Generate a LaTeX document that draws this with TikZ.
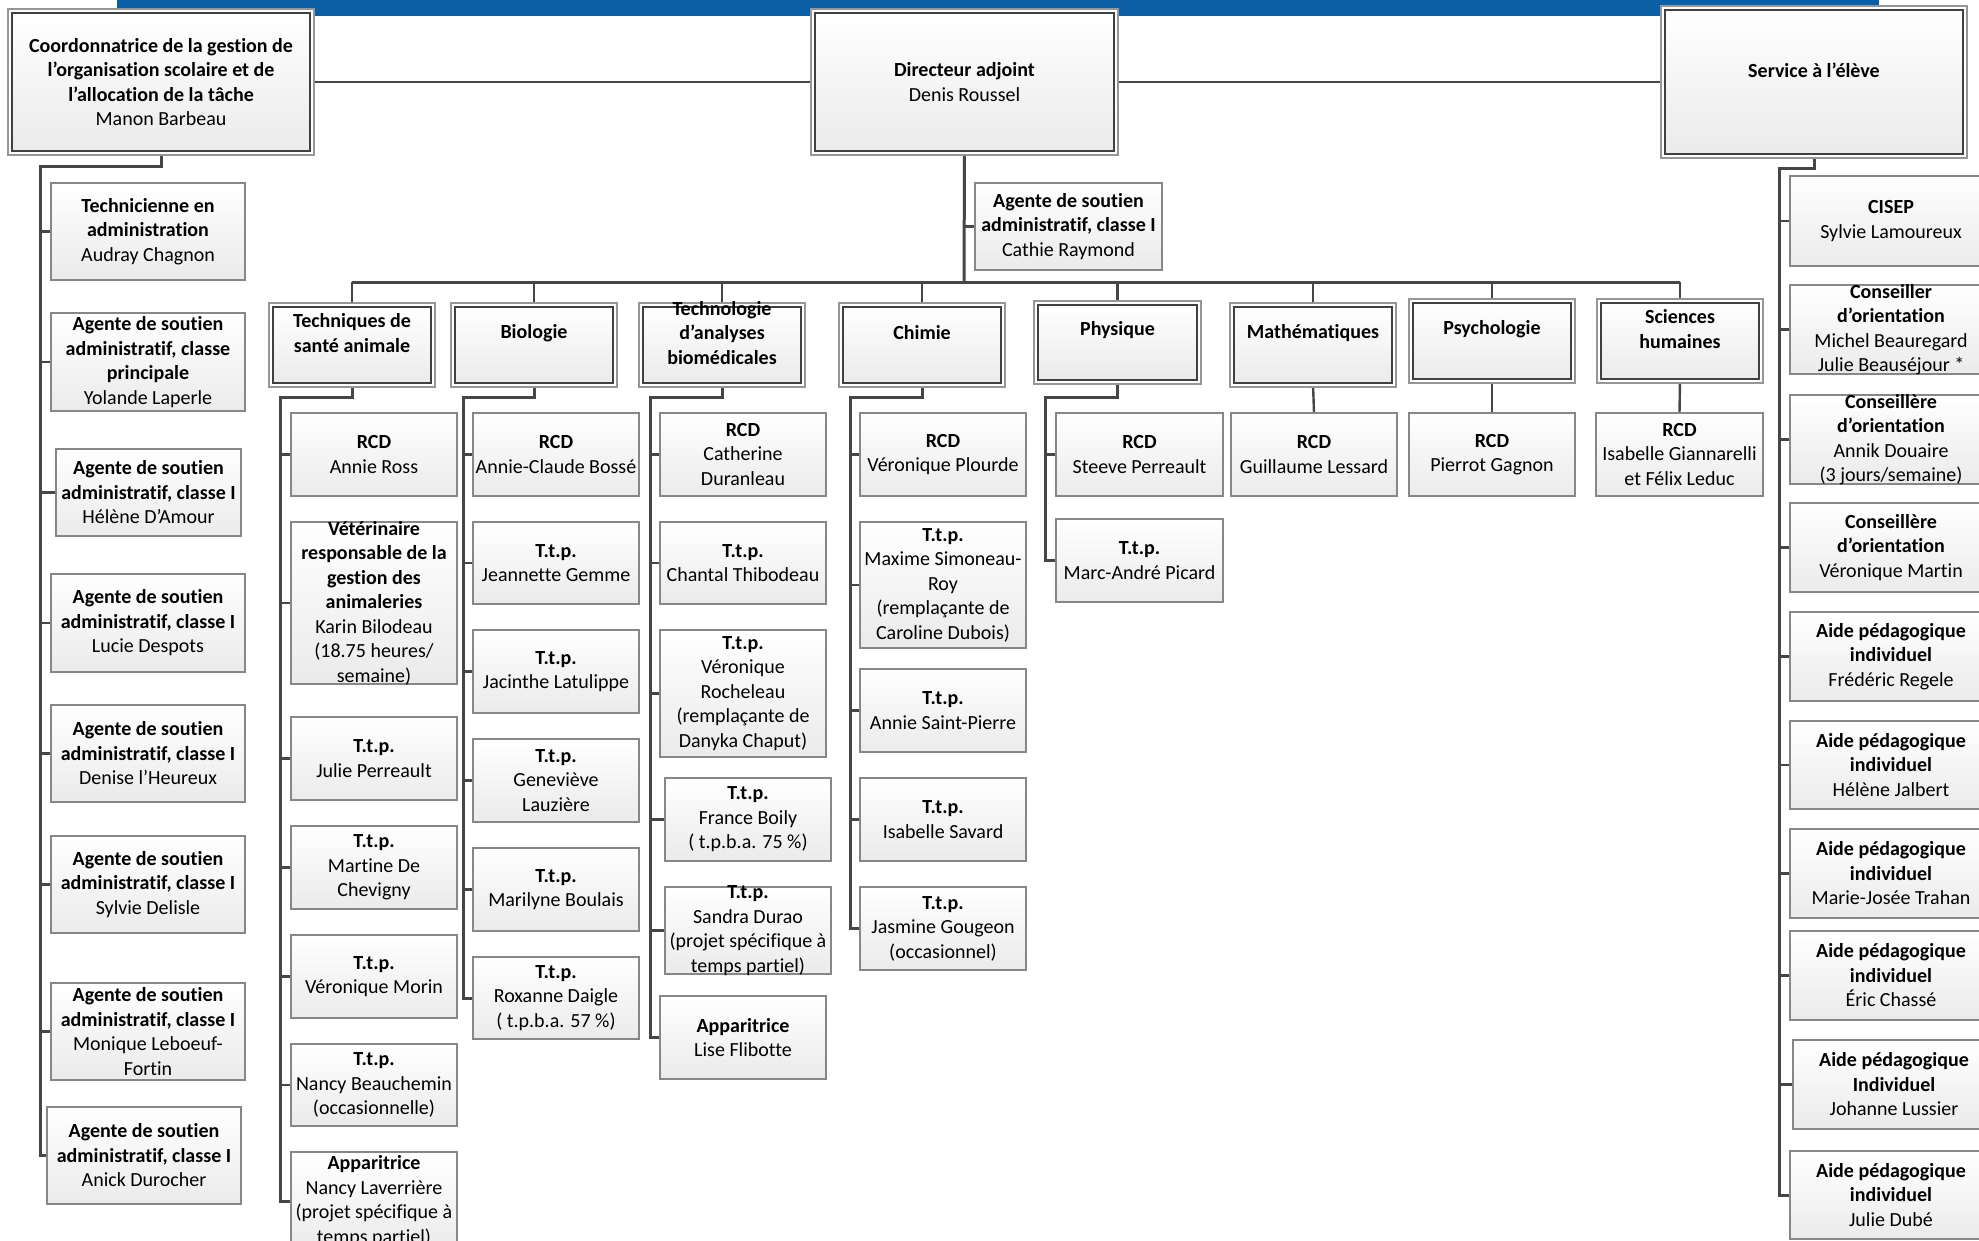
\documentclass[tikz,border=0pt]{standalone}
\usepackage{fontspec}
\setmainfont[Ligatures=NoCommon]{Carlito}
\usetikzlibrary{backgrounds}
\definecolor{barblue}{RGB}{11,95,165}
\definecolor{linegray}{RGB}{70,70,70}
\definecolor{kidborder}{RGB}{135,135,135}
\definecolor{outborder}{RGB}{150,150,150}
\definecolor{inborder}{RGB}{64,64,64}
\tikzset{
  kidbox/.style={draw=kidborder, line width=1.2pt, top color=white, bottom color=black!8, inner sep=0pt},
  deptbox/.style={draw=inborder, line width=1.4pt, top color=white, bottom color=black!8, inner sep=0pt},
  outframe/.style={draw=outborder, line width=1.2pt, fill=white},
  txt/.style={align=center, inner sep=0pt, font=\fontsize{20}{24.5}\selectfont},
  conn/.style={draw=linegray, line width=2.4pt},
  trunk/.style={draw=linegray, line width=3pt}
}
\newcommand{\ttl}[1]{\textbf{#1}}
\newcommand{\kid}[6]{%
  \pgfmathsetmacro\bxw{#4-#2}\pgfmathsetmacro\bxh{#5-#3}%
  \node[kidbox, minimum width=\bxw pt, minimum height=\bxh pt] (#1) at ({(#2+#4)/2},{(#3+#5)/2}) {};
  \node[txt] (#1-t) at (#1.center) {#6};}
\newcommand{\dept}[7]{%
  \pgfmathsetmacro\bxw{#4-#2}\pgfmathsetmacro\bxh{#5-#3}%
  \draw[outframe] (#2-4,#3-4) rectangle (#4+4,#5+4);
  \node[deptbox, minimum width=\bxw pt, minimum height=\bxh pt] (#1) at ({(#2+#4)/2},{(#3+#5)/2}) {};
  \node[txt] (#1-t) at ([yshift=#6pt]#1.center) {#7};}
\begin{document}
\begin{tikzpicture}[x=1pt,y=-1pt]
\useasboundingbox (0,0) rectangle (1979,1240);
\clip (0,0) rectangle (1979,1240);
\fill[barblue] (117,0) rectangle (1879,16);

% top level
\dept{coord}{12}{13}{310}{151}{0}{\ttl{Coordonnatrice de la gestion de}\\\ttl{l’organisation scolaire et de}\\\ttl{l’allocation de la tâche}\\Manon Barbeau}
\dept{dir}{815}{13}{1114}{151}{0}{\ttl{Directeur adjoint}\\Denis Roussel}
\dept{serv}{1665}{10}{1963}{154}{12}{\ttl{Service à l’élève}}
\kid{ag}{975}{183}{1162}{270}{\ttl{Agente de soutien}\\\ttl{administratif, classe I}\\Cathie Raymond}

% left column
\kid{c1}{51}{183}{245}{280}{\ttl{Technicienne en}\\\ttl{administration}\\Audray Chagnon}
\kid{c2}{51}{313}{245}{411}{\ttl{Agente de soutien}\\\ttl{administratif, classe}\\\ttl{principale}\\Yolande Laperle}
\kid{c3}{56}{449}{241}{536}{\ttl{Agente de soutien}\\\ttl{administratif, classe I}\\Hélène D’Amour}
\kid{c4}{51}{574}{245}{672}{\ttl{Agente de soutien}\\\ttl{administratif, classe I}\\Lucie Despots}
\kid{c5}{51}{705}{245}{802}{\ttl{Agente de soutien}\\\ttl{administratif, classe I}\\Denise l’Heureux}
\kid{c6}{51}{836}{245}{933}{\ttl{Agente de soutien}\\\ttl{administratif, classe I}\\Sylvie Delisle}
\kid{c7}{51}{983}{245}{1080}{\ttl{Agente de soutien}\\\ttl{administratif, classe I}\\Monique Leboeuf-\\Fortin}
\kid{c8}{47}{1107}{241}{1204}{\ttl{Agente de soutien}\\\ttl{administratif, classe I}\\Anick Durocher}

% departments
\dept{tsa}{273}{307}{431}{383}{12}{\ttl{Techniques de}\\\ttl{santé animale}}
\dept{bio}{455}{307}{613}{383}{12}{\ttl{Biologie}}
\dept{tab}{643}{307}{801}{383}{12}{\ttl{Technologie}\\\ttl{d’analyses}\\\ttl{biomédicales}}
\dept{chi}{843}{307}{1001}{383}{12}{\ttl{Chimie}}
\dept{phy}{1038}{305}{1197}{380}{12}{\ttl{Physique}}
\dept{mat}{1234}{307}{1392}{383}{12}{\ttl{Mathématiques}}
\dept{psy}{1413}{303}{1571}{379}{12}{\ttl{Psychologie}}
\dept{sh}{1601}{303}{1759}{379}{12}{\ttl{Sciences}\\\ttl{humaines}}

% Techniques de santé animale
\kid{t1}{291}{413}{457}{496}{\ttl{RCD}\\Annie Ross}
\kid{t2}{291}{522}{457}{684}{\ttl{Vétérinaire}\\\ttl{responsable de la}\\\ttl{gestion des}\\\ttl{animaleries}\\Karin Bilodeau\\(18.75 heures/\\semaine)}
\kid{t3}{291}{717}{457}{800}{\ttl{T.t.p.}\\Julie Perreault}
\kid{t4}{291}{826}{457}{909}{\ttl{T.t.p.}\\Martine De\\Chevigny}
\kid{t5}{291}{935}{457}{1018}{\ttl{T.t.p.}\\Véronique Morin}
\kid{t6}{291}{1044}{457}{1126}{\ttl{T.t.p.}\\Nancy Beauchemin\\(occasionnelle)}
\kid{t7}{291}{1152}{457}{1250}{\ttl{Apparitrice}\\Nancy Laverrière\\(projet spécifique à\\temps partiel)}

% Biologie
\kid{b1}{473}{413}{639}{496}{\ttl{RCD}\\Annie-Claude Bossé}
\kid{b2}{473}{522}{639}{604}{\ttl{T.t.p.}\\Jeannette Gemme}
\kid{b3}{473}{630}{639}{713}{\ttl{T.t.p.}\\Jacinthe Latulippe}
\kid{b4}{473}{739}{639}{822}{\ttl{T.t.p.}\\Geneviève\\Lauzière}
\kid{b5}{473}{848}{639}{931}{\ttl{T.t.p.}\\Marilyne Boulais}
\kid{b6}{473}{957}{639}{1039}{\ttl{T.t.p.}\\Roxanne Daigle\\( t.p.b.a. 57 \%)}

% Technologie d'analyses biomedicales
\kid{a1}{660}{413}{826}{496}{\ttl{RCD}\\Catherine\\Duranleau}
\kid{a2}{660}{522}{826}{604}{\ttl{T.t.p.}\\Chantal Thibodeau}
\kid{a3}{660}{630}{826}{757}{\ttl{T.t.p.}\\Véronique\\Rocheleau\\(remplaçante de\\Danyka Chaput)}
\kid{a4}{665}{778}{831}{861}{\ttl{T.t.p.}\\France Boily\\( t.p.b.a. 75 \%)}
\kid{a5}{665}{887}{831}{974}{\ttl{T.t.p.}\\Sandra Durao\\(projet spécifique à\\temps partiel)}
\kid{a6}{660}{996}{826}{1079}{\ttl{Apparitrice}\\Lise Flibotte}

% Chimie
\kid{h1}{860}{413}{1026}{496}{\ttl{RCD}\\Véronique Plourde}
\kid{h2}{860}{522}{1026}{648}{\ttl{T.t.p.}\\Maxime Simoneau-\\Roy\\(remplaçante de\\Caroline Dubois)}
\kid{h3}{860}{669}{1026}{752}{\ttl{T.t.p.}\\Annie Saint-Pierre}
\kid{h4}{860}{778}{1026}{861}{\ttl{T.t.p.}\\Isabelle Savard}
\kid{h5}{860}{887}{1026}{970}{\ttl{T.t.p.}\\Jasmine Gougeon\\(occasionnel)}

% Physique
\kid{p1}{1056}{413}{1223}{496}{\ttl{RCD}\\Steeve Perreault}
\kid{p2}{1056}{519}{1223}{602}{\ttl{T.t.p.}\\Marc-André Picard}

% Mathematiques, Psychologie, Sciences humaines
\kid{m1}{1231}{413}{1397}{496}{\ttl{RCD}\\Guillaume Lessard}
\kid{y1}{1409}{413}{1575}{496}{\ttl{RCD}\\Pierrot Gagnon}
\kid{s1}{1596}{413}{1763}{496}{\ttl{RCD}\\Isabelle Giannarelli\\et Félix Leduc}

% Service a l'eleve
\kid{v1}{1790}{176}{1992}{266}{\ttl{CISEP}\\Sylvie Lamoureux}
\kid{v2}{1790}{285}{1992}{374}{\ttl{Conseiller}\\\ttl{d’orientation}\\Michel Beauregard\\Julie Beauséjour *}
\kid{v3}{1790}{395}{1992}{484}{\ttl{Conseillère}\\\ttl{d’orientation}\\Annik Douaire\\(3 jours/semaine)}
\kid{v4}{1790}{503}{1992}{592}{\ttl{Conseillère}\\\ttl{d’orientation}\\Véronique Martin}
\kid{v5}{1790}{612}{1992}{701}{\ttl{Aide pédagogique}\\\ttl{individuel}\\Frédéric Regele}
\kid{v6}{1790}{721}{1992}{809}{\ttl{Aide pédagogique}\\\ttl{individuel}\\Hélène Jalbert}
\kid{v7}{1790}{829}{1992}{918}{\ttl{Aide pédagogique}\\\ttl{individuel}\\Marie-Josée Trahan}
\kid{v8}{1790}{931}{1992}{1020}{\ttl{Aide pédagogique}\\\ttl{individuel}\\Éric Chassé}
\kid{v9}{1793}{1040}{1995}{1129}{\ttl{Aide pédagogique}\\\ttl{Individuel}\\Johanne Lussier}
\kid{v10}{1790}{1151}{1992}{1239}{\ttl{Aide pédagogique}\\\ttl{individuel}\\Julie Dubé}

% connectors
\begin{scope}[on background layer]
\coordinate (bus) at (964,282);
\coordinate (cl) at (40,166);
\coordinate (tsaL) at (280,397);
\coordinate (bioL) at (463,397);
\coordinate (tabL) at (650,397);
\coordinate (chiL) at (850,397);
\coordinate (phyL) at (1045,397);
\coordinate (servL) at (1779,168);

\draw[conn] (coord.east) -- (dir.west);
\draw[conn] (dir.east) -- (serv.west);
\draw[trunk] (dir.south) -- (bus);
\draw[conn] (dir.south |- ag.west) -- (ag.west);
\draw[trunk] (tsa.north |- bus) -- (sh.north |- bus);
\foreach \d in {tsa,bio,tab,chi,phy,mat,psy,sh}
  \draw[conn] (\d.north |- bus) -- (\d.north);

% left column
\draw[trunk] (coord.south) |- (cl) -- (cl |- c8.west) -- (c8.west);
\foreach \k in {c1,c2,c3,c4,c5,c6,c7}
  \draw[conn] (cl |- \k.west) -- (\k.west);

% department columns
\draw[trunk] (tsa.south) |- (tsaL) -- (tsaL |- t7.west) -- (t7.west);
\foreach \k in {t1,t2,t3,t4,t5,t6}
  \draw[conn] (tsaL |- \k.west) -- (\k.west);
\draw[trunk] (bio.south) |- (bioL) -- (bioL |- b6.west) -- (b6.west);
\foreach \k in {b1,b2,b3,b4,b5}
  \draw[conn] (bioL |- \k.west) -- (\k.west);
\draw[trunk] (tab.south) |- (tabL) -- (tabL |- a6.west) -- (a6.west);
\foreach \k in {a1,a2,a3,a4,a5}
  \draw[conn] (tabL |- \k.west) -- (\k.west);
\draw[trunk] (chi.south) |- (chiL) -- (chiL |- h5.west) -- (h5.west);
\foreach \k in {h1,h2,h3,h4}
  \draw[conn] (chiL |- \k.west) -- (\k.west);
\draw[trunk] (phy.south) |- (phyL) -- (phyL |- p2.west) -- (p2.west);
\draw[conn] (phyL |- p1.west) -- (p1.west);
\draw[conn] (mat.south) -- (m1.north);
\draw[conn] (psy.south) -- (y1.north);
\draw[conn] (sh.south) -- (s1.north);

% service column
\draw[trunk] (serv.south) |- (servL) -- (servL |- v10.west) -- (v10.west);
\foreach \k in {v1,v2,v3,v4,v5,v6,v7,v8,v9}
  \draw[conn] (servL |- \k.west) -- (\k.west);
\end{scope}
\end{tikzpicture}
\end{document}
